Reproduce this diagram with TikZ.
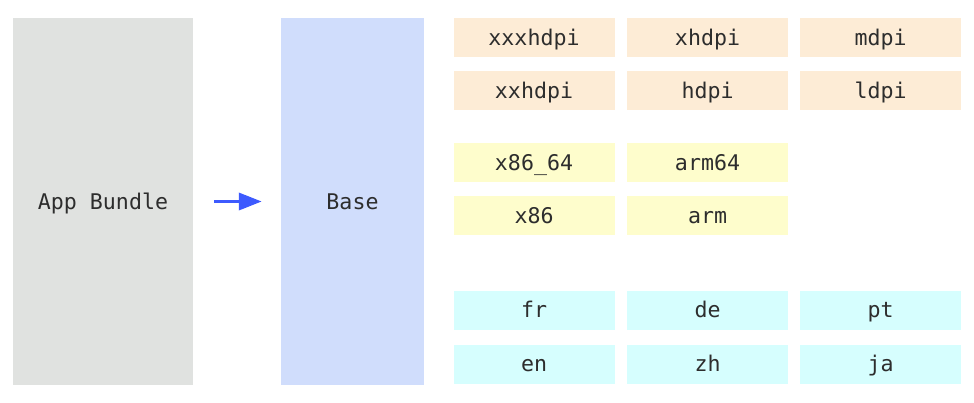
\documentclass[tikz,border=0pt]{standalone}
\usepackage{fontspec}
\setmonofont{DejaVu Sans Mono}
\usepackage{tikz}
\usetikzlibrary{arrows.meta}
\definecolor{bundlegray}{RGB}{224, 226, 224}
\definecolor{baseblue}{RGB}{208, 221, 252}
\definecolor{dpiorange}{RGB}{253, 236, 214}
\definecolor{abiyellow}{RGB}{254, 253, 204}
\definecolor{langcyan}{RGB}{214, 254, 254}
\definecolor{arrowblue}{RGB}{61, 90, 254}
\definecolor{labeltext}{RGB}{45, 45, 45}

\tikzset{
	tile/.style={inner sep=0pt, text height=16pt, text depth=1pt, text=labeltext, font=\ttfamily\fontsize{21.6}{26}\selectfont},
	cell/.style={tile, minimum width=161pt, minimum height=39pt},
	dpicell/.style={cell, fill=dpiorange},
	abicell/.style={cell, fill=abiyellow},
	langcell/.style={cell, fill=langcyan}
}

\begin{document}
\begin{tikzpicture}[x=1pt, y=-1pt]
		\useasboundingbox (0,0) rectangle (974,402);
		
		% Bundle und Base
		\node[tile, fill=bundlegray, minimum width=180pt, minimum height=367pt] (bundle) at (103, 201.5) {App Bundle};
		\node[tile, fill=baseblue, minimum width=143pt, minimum height=367pt] (base) at (352.5, 201.5) {Base};
		\draw[arrowblue, line width=3.5pt, -{Triangle[length=23pt, width=17pt]}, shorten <=21pt, shorten >=19pt] (bundle) -- (base);
		
		% --- Dichte ---
		\node[dpicell] (xxxhdpi) at (534, 37.5) {xxxhdpi};
		\node[dpicell] (xhdpi) at (707.5, 37.5) {xhdpi};
		\node[dpicell] (mdpi) at (880.5, 37.5) {mdpi};
		\node[dpicell] (xxhdpi) at (534, 90.5) {xxhdpi};
		\node[dpicell] (hdpi) at (707.5, 90.5) {hdpi};
		\node[dpicell] (ldpi) at (880.5, 90.5) {ldpi};
		
		% --- ABI ---
		\node[abicell] (x8664) at (534, 162.5) {x86\_64};
		\node[abicell] (arm64) at (707.5, 162.5) {arm64};
		\node[abicell] (x86) at (534, 215.5) {x86};
		\node[abicell] (arm) at (707.5, 215.5) {arm};
		
		% --- Sprachen ---
		\node[langcell] (fr) at (534, 310) {fr};
		\node[langcell] (de) at (707.5, 310) {de};
		\node[langcell] (pt) at (880.5, 310) {pt};
		\node[langcell] (en) at (534, 364) {en};
		\node[langcell] (zh) at (707.5, 364) {zh};
		\node[langcell] (ja) at (880.5, 364) {ja};
		
	\end{tikzpicture}
\end{document}
